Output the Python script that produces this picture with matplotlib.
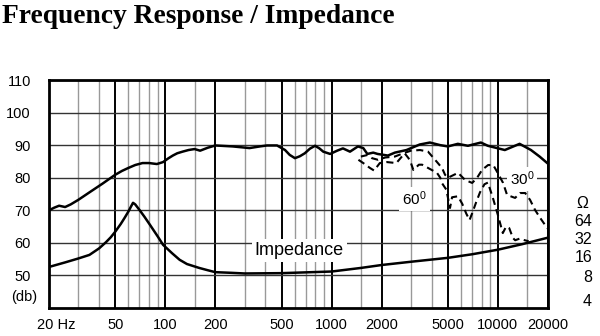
import numpy as np
import matplotlib
matplotlib.use('Agg')
import matplotlib.pyplot as plt
from matplotlib.transforms import ScaledTranslation

# on-axis frequency response (Hz, dB)
fr_freq = [20, 21.5, 23, 25, 27, 30, 35, 42, 50, 55, 60, 66, 73, 80, 89, 97,
           104, 111, 118, 127, 138, 150, 162, 180, 200, 255, 321, 370, 409,
           470, 525, 560, 602, 645, 690, 740, 795, 845, 891, 980, 1080, 1170,
           1290, 1440, 1550, 1640, 1780, 1890, 2180, 2400, 2820, 3390, 3900,
           4500, 5000, 5740, 6600, 7900, 8700, 11000, 13500, 15800, 17800,
           20000]
fr_db = [70.0, 70.8, 71.4, 71.0, 71.8, 73.2, 75.5, 78.2, 80.9, 82.1, 83.0,
         83.9, 84.5, 84.5, 84.2, 84.8, 85.9, 86.8, 87.5, 88.0, 88.5, 88.8,
         88.3, 89.2, 89.9, 89.6, 89.1, 89.6, 89.9, 89.9, 88.5, 87.0, 86.0,
         86.6, 87.5, 88.9, 89.8, 89.0, 88.0, 87.3, 88.3, 89.0, 88.0, 89.6,
         89.1, 87.3, 87.7, 87.3, 86.8, 87.7, 88.5, 90.2, 90.8, 90.0, 89.6,
         90.4, 89.8, 90.8, 89.8, 88.5, 90.4, 88.5, 86.5, 84.3]

# 30 degree off-axis response
off30_freq = [1500, 1650, 1750, 1900, 2100, 2400, 2700, 3000, 3400, 3800,
              4190, 4610, 4810, 5010, 5760, 6350, 7000, 7500, 8030, 8730,
              9370, 9890, 10740, 11350, 12680, 13600, 14580, 15600, 16720,
              17920, 19200, 20000]
off30_db = [86.5, 87.0, 86.0, 85.5, 86.2, 86.5, 87.5, 88.3, 88.5, 88.0,
            85.5, 83.0, 80.9, 80.0, 81.5, 79.3, 78.4, 80.0, 82.4, 83.9,
            83.9, 81.8, 78.4, 74.7, 73.8, 75.3, 75.3, 73.2, 70.1,
            67.7, 65.5, 64.3]

# 60 degree off-axis response
off60_freq = [1450, 1550, 1700, 1800, 1950, 2150, 2450, 2750, 2900, 3000,
              3100, 3350, 3500, 3800, 4300, 4500, 4600, 4900, 5000, 5150,
              5300, 5750, 6100, 6450, 6750, 7050, 7400, 7800, 8300, 8700,
              9300, 10000, 10700, 11200, 11700, 12300, 12700, 13500, 14500,
              15300]
off60_db = [85.5, 84.5, 83.0, 82.2, 84.5, 84.8, 84.5, 87.5, 86.0, 84.5,
            82.4, 84.0, 84.0, 83.0, 81.5, 80.0, 78.4, 76.3, 74.0, 70.7,
            74.0, 74.3, 72.0, 69.0, 67.0, 69.5, 72.5, 75.5, 78.0, 78.5,
            74.0, 68.5, 63.0, 65.0, 64.5, 61.5, 60.8, 61.3, 60.8, 60.5]

# impedance curve, drawn on the dB scale
imp_freq = [20, 25, 30, 35, 40, 44, 47, 50, 54, 57, 60, 62, 64, 66, 70, 75,
            81, 90, 97, 110, 122, 135, 160, 180, 200, 250, 300, 500, 1000,
            1500, 2000, 3000, 5000, 7000, 10000, 14000, 20000]
imp_db = [52.6, 54.0, 55.2, 56.3, 58.3, 60.2, 61.7, 63.4, 65.8, 67.7, 69.6,
          71.0, 72.3, 71.8, 70.1, 68.0, 65.5, 62.0, 59.4, 56.8, 54.8, 53.5,
          52.3, 51.6, 51.0, 50.8, 50.6, 50.7, 51.2, 52.3, 53.2, 54.2, 55.4,
          56.5, 57.9, 59.6, 61.6]

x_major = [20, 50, 100, 200, 500, 1000, 2000, 5000, 10000, 20000]
x_labels = ['20 Hz', '50', '100', '200', '500', '1000', '2000', '5000',
            '10000', '20000']
x_minor = [30, 40, 60, 70, 80, 90, 150, 300, 400, 600, 700, 800, 900, 1500,
           3000, 4000, 6000, 7000, 8000, 9000, 15000]
y_ticks = [50, 60, 70, 80, 90, 100, 110]
ohm_labels = ['\u03a9', '64', '32', '16', '8', '4']

plt.rcParams['font.family'] = 'Liberation Sans'
plt.rcParams['mathtext.default'] = 'regular'

fig = plt.figure(figsize=(6, 3.36), dpi=100)
ax = fig.add_axes([49 / 600, 28 / 336, 499 / 600, 228 / 336])
ax.set_xscale('log')
ax.set_xlim(20, 20000)
ax.set_ylim(40, 110)

ax.set_xticks(x_major)
ax.set_xticklabels(x_labels)
ax.set_xticks(x_minor, minor=True)
ax.set_xticklabels([], minor=True)
ax.set_yticks(y_ticks)
ax.set_yticklabels([str(v) for v in y_ticks])
ax.tick_params(which='both', length=0, labelsize=10.5)
ax.tick_params(axis='x', pad=7)
ax.tick_params(axis='y', pad=13)
# "20 Hz" sits with the number over the first line
first = ax.get_xticklabels()[0]
first.set_transform(first.get_transform() + ScaledTranslation(5 / 72, 0, fig.dpi_scale_trans))

ax.set_axisbelow(True)
ax.xaxis.grid(True, which='major', color='black', lw=1.4)
ax.xaxis.grid(True, which='minor', color='#999999', lw=1.0)
ax.yaxis.grid(True, which='major', color='#333333', lw=1.0)
for s in ax.spines.values():
    s.set_linewidth(2)
    s.set_color('black')

ax.plot(fr_freq, fr_db, color='black', lw=1.8, zorder=4)
ax.plot(imp_freq, imp_db, color='black', lw=1.8, zorder=4)
ax.plot(off30_freq, off30_db, color='black', lw=1.5, ls=(0, (3.4, 2.2)), zorder=4)
ax.plot(off60_freq, off60_db, color='black', lw=1.5, ls=(0, (3.4, 2.2)), zorder=4)

box = dict(facecolor='white', edgecolor='none', pad=2)
ax.text(640, 57.6, 'Impedance', fontsize=13, ha='center', va='center',
        bbox=box, zorder=3)
ax.text(14000, 79.6, '30$^{0}$', fontsize=11, ha='center', va='center',
        bbox=box, zorder=3)
ax.text(3150, 73.5, '60$^{0}$', fontsize=11, ha='center', va='center',
        bbox=box, zorder=3)
ax.text(-0.024, 43.4, '(db)', transform=ax.get_yaxis_transform(),
        fontsize=10.5, ha='right', va='center')

fig.text(2 / 600, 1 - 23 / 336, 'Frequency Response / Impedance',
         family='Liberation Serif', weight='bold', fontsize=19.8,
         ha='left', va='baseline')

# ohm scale on the right
ohm_y = [203, 222, 240, 258, 277, 302]
ohm_x = [588, 592, 592, 592, 592, 592]
for lab, px, py in zip(ohm_labels, ohm_x, ohm_y):
    fig.text(px / 600, 1 - py / 336, lab, fontsize=11.5, ha='right', va='center')

fig.savefig('out.png', dpi=100)
